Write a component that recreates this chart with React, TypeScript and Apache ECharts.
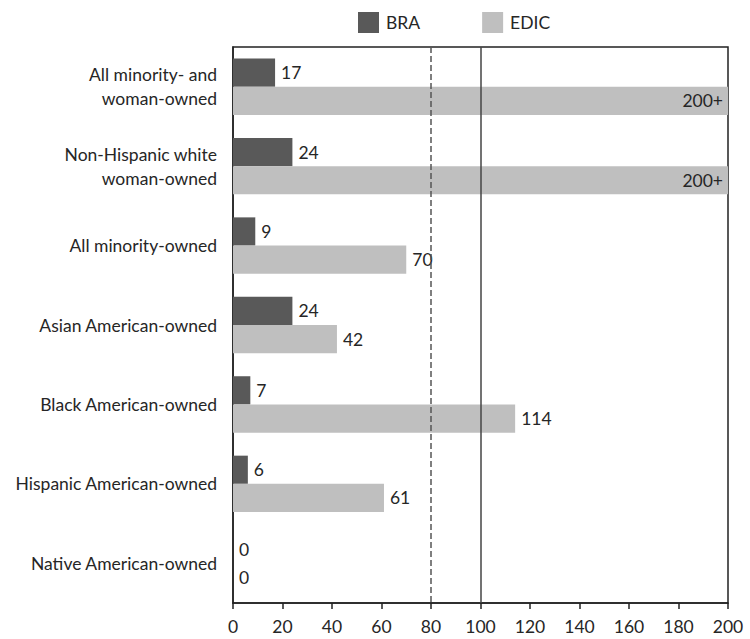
import React, { useEffect, useRef } from "react";
import * as echarts from "echarts";

const categories = [
  "All minority- and\nwoman-owned",
  "Non-Hispanic white\nwoman-owned",
  "All minority-owned",
  "Asian American-owned",
  "Black American-owned",
  "Hispanic American-owned",
  "Native American-owned",
];
const braValues = [17, 24, 9, 24, 7, 6, 0];
const edicValues = [200, 200, 70, 42, 114, 61, 0];
const edicLabels = ["200+", "200+", "70", "42", "114", "61", "0"];
const referenceLines = [80, 100];

const FONT = "Lato, 'Open Sans', sans-serif";
const FS = 17.5;

export default function App() {
  const ref = useRef<HTMLDivElement>(null);
  useEffect(() => {
    if (!ref.current) return;
    const chart = echarts.init(ref.current, null, { renderer: "svg" });
    chart.setOption({
      animation: false,
      textStyle: { fontFamily: FONT },
      legend: {
        top: 7,
        left: 353,
        itemWidth: 21,
        itemHeight: 21,
        itemGap: 62,
        icon: "rect",
        textStyle: { fontSize: FS, color: "#262626", fontFamily: FONT, padding: [0, 0, 0, 2] },
        data: ["BRA", "EDIC"],
      },
      grid: {
        left: 233,
        right: 22,
        top: 47,
        bottom: 36,
        show: true,
        borderColor: "#222",
        borderWidth: 1.5,
      },
      xAxis: {
        type: "value",
        min: 0,
        max: 200,
        interval: 20,
        axisLine: { show: true, lineStyle: { color: "#222", width: 1.5 } },
        axisTick: { show: true, length: 6, lineStyle: { color: "#222", width: 1.5 } },
        axisLabel: { fontSize: FS, color: "#262626", margin: 14, fontFamily: FONT },
        splitLine: { show: false },
      },
      yAxis: {
        type: "category",
        data: categories,
        inverse: true,
        axisLine: { show: true, lineStyle: { color: "#222", width: 1.5 } },
        axisTick: { show: false },
        axisLabel: {
          fontSize: FS,
          color: "#262626",
          margin: 16,
          lineHeight: 24,
          align: "right",
          fontFamily: FONT,
        },
      },
      series: [
        {
          name: "BRA",
          type: "bar",
          data: braValues,
          barGap: "0%",
          barCategoryGap: "29%",
          itemStyle: { color: "#595959" },
          label: {
            show: true,
            position: "right",
            distance: 6,
            fontSize: FS,
            color: "#262626",
            fontFamily: FONT,
          },
          markLine: {
            silent: true,
            symbol: "none",
            label: { show: false },
            data: [
              { xAxis: referenceLines[0], lineStyle: { type: "dashed", color: "#555", width: 1.5 } },
              { xAxis: referenceLines[1], lineStyle: { type: "solid", color: "#444", width: 1.5 } },
            ],
          },
        },
        {
          name: "EDIC",
          type: "bar",
          data: edicValues.map((v, i) => ({
            value: v,
            label:
              edicLabels[i].endsWith("+")
                ? { position: "insideRight", distance: 5, formatter: edicLabels[i] }
                : { formatter: edicLabels[i] },
          })),
          barGap: "0%",
          barCategoryGap: "29%",
          itemStyle: { color: "#bfbfbf" },
          label: {
            show: true,
            position: "right",
            distance: 6,
            fontSize: FS,
            color: "#262626",
            fontFamily: FONT,
          },
        },
      ],
    });
    return () => chart.dispose();
  }, []);
  return <div ref={ref} style={{ width: 750, height: 639, position: "absolute", left: 0, top: 0 }} />;
}
